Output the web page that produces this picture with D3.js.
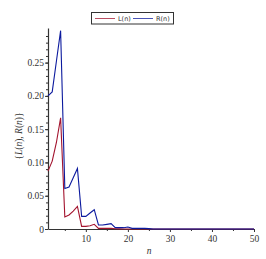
<!DOCTYPE html>
<html>
<head>
<meta charset="utf-8">
<script src="https://cdn.jsdelivr.net/npm/d3@7"></script>
<style>
  body { margin: 0; background: #fff; }
  svg { display: block; }
</style>
</head>
<body>
<svg id="chart" width="266" height="259"></svg>
<script>
// n = 1..50
const nValues = d3.range(1, 51);
const lValues = [0.087, 0.102, 0.13, 0.167, 0.018, 0.021, 0.027, 0.034, 0.004, 0.004,
  0.005, 0.007, 0.001, 0.001, 0.001, 0.001, 0.0003, 0.0002, 0.0001, 0.0001,
  0, 0, 0, 0, 0, 0, 0, 0, 0, 0, 0, 0, 0, 0, 0, 0, 0, 0, 0, 0,
  0, 0, 0, 0, 0, 0, 0, 0, 0, 0];
const rValues = [0.2, 0.206, 0.252, 0.298, 0.061, 0.063, 0.077, 0.091, 0.019, 0.019,
  0.024, 0.029, 0.006, 0.006, 0.007, 0.008, 0.002, 0.002, 0.002, 0.003,
  0.001, 0.001, 0.001, 0.001, 0.0005, 0, 0, 0, 0, 0, 0, 0, 0, 0, 0, 0, 0, 0, 0, 0,
  0, 0, 0, 0, 0, 0, 0, 0, 0, 0];
const xTicks = [10, 20, 30, 40, 50];
const yTicks = [0, 0.05, 0.10, 0.15, 0.20, 0.25];
const seriesNames = ['L(n)', 'R(n)'];
const seriesColors = ['#a3132e', '#0c1a9e'];

const svg = d3.select('#chart');
const margin = { top: 28, right: 12, bottom: 30, left: 48 };
const width = 266 - margin.left - margin.right;
const height = 259 - margin.top - margin.bottom;

const x = d3.scaleLinear().domain([1, 50]).range([0, width]);
const y = d3.scaleLinear().domain([0, 0.302]).range([height, 0]);

const g = svg.append('g').attr('transform', `translate(${margin.left},${margin.top})`);

// minor ticks
g.append('g')
  .attr('transform', `translate(0,${height})`)
  .call(d3.axisBottom(x).tickValues([5, 15, 25, 35, 45]).tickSize(2).tickFormat(''))
  .call(a => a.select('.domain').remove())
  .selectAll('line').attr('stroke', '#333');
g.append('g')
  .call(d3.axisLeft(y).tickValues(d3.range(1, 30).map(d => d / 100)).tickSize(2).tickFormat(''))
  .call(a => a.select('.domain').remove())
  .selectAll('line').attr('stroke', '#333');

const xAxis = g.append('g')
  .attr('transform', `translate(0,${height})`)
  .call(d3.axisBottom(x).tickValues(xTicks).tickSize(3).tickSizeOuter(0).tickPadding(3));
const yAxis = g.append('g')
  .call(d3.axisLeft(y).tickValues(yTicks).tickSize(3).tickSizeOuter(0).tickPadding(1)
    .tickFormat(d => d === 0 ? '0' : d3.format('.2f')(d)));

[xAxis, yAxis].forEach(a => {
  a.attr('font-family', '"Liberation Serif", "DejaVu Serif", serif');
  a.selectAll('text').attr('font-family', '"Liberation Serif", "DejaVu Serif", serif')
    .attr('font-size', 9.5).attr('fill', '#333');
  a.selectAll('line').attr('stroke', '#333');
  a.select('.domain').attr('stroke', '#333').attr('stroke-width', 1.2);
});

const line = d3.line().x((d, i) => x(nValues[i])).y(d => y(d));
[lValues, rValues].forEach((vals, i) => {
  g.append('path')
    .datum(vals)
    .attr('fill', 'none')
    .attr('stroke', seriesColors[i])
    .attr('stroke-width', 1.1)
    .attr('d', line);
});

// axis titles
svg.append('text')
  .attr('x', 149).attr('y', 254)
  .attr('text-anchor', 'middle')
  .attr('font-family', '"Liberation Serif", serif')
  .attr('font-style', 'italic').attr('font-size', 9.5).attr('fill', '#333')
  .text('n');

const yt = svg.append('text')
  .attr('transform', 'translate(22,136) rotate(-90)')
  .attr('text-anchor', 'middle')
  .attr('font-family', '"Liberation Serif", serif')
  .attr('font-size', 9.5).attr('fill', '#333');
yt.append('tspan').text('{');
yt.append('tspan').attr('font-style', 'italic').text('L');
yt.append('tspan').text('(');
yt.append('tspan').attr('font-style', 'italic').text('n');
yt.append('tspan').text('), ');
yt.append('tspan').attr('font-style', 'italic').text('R');
yt.append('tspan').text('(');
yt.append('tspan').attr('font-style', 'italic').text('n');
yt.append('tspan').text(')}');

// legend
const legend = svg.append('g');
legend.append('rect')
  .attr('x', 91.5).attr('y', 12.5).attr('width', 82).attr('height', 11.5)
  .attr('fill', '#fff').attr('stroke', '#333').attr('stroke-width', 1);
const legendX = [95, 133];
seriesNames.forEach((name, i) => {
  legend.append('line')
    .attr('x1', legendX[i]).attr('x2', legendX[i] + 20)
    .attr('y1', 18.5).attr('y2', 18.5)
    .attr('stroke', seriesColors[i]).attr('stroke-width', 1)
    .attr('stroke-opacity', 0.75);
  legend.append('text')
    .attr('x', legendX[i] + 23).attr('y', 21)
    .attr('font-family', '"DejaVu Sans", sans-serif')
    .attr('font-size', 6.5).attr('fill', '#333')
    .text(name);
});
</script>
</body>
</html>
